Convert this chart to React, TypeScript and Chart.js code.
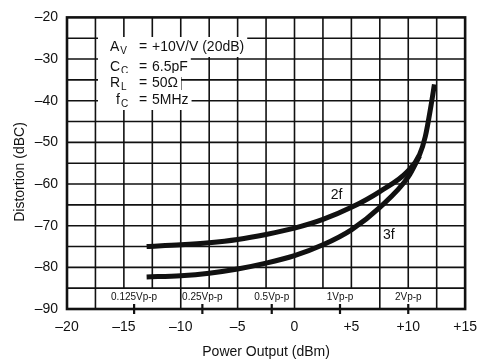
import React, { useEffect, useRef } from "react";
import { Chart, registerables } from "chart.js";

Chart.register(...registerables);

// ---- Data ----
const power2f = [-13, -10, -7.5, -5, -2.5, 0, 2.5, 5, 7.5, 10, 11, 11.5, 12, 12.3];
const dist2f = [-75, -74.6, -74.1, -73.3, -72.1, -70.6, -68.5, -65.6, -61.8, -56.8, -52.9, -48.6, -41.2, -36.1];
const power3f = [-13, -10, -7.5, -5, -2.5, 0, 2.5, 5, 7.5, 10, 11];
const dist3f = [-82.3, -82.0, -81.4, -80.4, -79.0, -77.2, -74.6, -71.0, -65.6, -58.3, -53.2];

const vppLabels = ["0.125Vp-p", "0.25Vp-p", "0.5Vp-p", "1Vp-p", "2Vp-p"];
const vppPower = [-14.1, -8.1, -2.0, 4.0, 10.0];
const rowSeparators = [-17.5, -10, -5, 0, 7.5, 12.5];

const xMin = -20, xMax = 15, xStep = 5, xGridStep = 2.5;
const yMin = -90, yMax = -20, yStep = 10, yGridStep = 5;

const curveLabels = [
  { text: "2f", x: 3.7, y: -62.7 },
  { text: "3f", x: 8.3, y: -72.3 },
];

const conditions = [
  { main: "A", sub: "V", value: "+10V/V (20dB)" },
  { main: "C", sub: "C", value: "6.5pF" },
  { main: "R", sub: "L", value: "50Ω" },
  { main: "f", sub: "C", value: "5MHz" },
];

const xTitle = "Power Output (dBm)";
const yTitle = "Distortion (dBC)";

const FONT = "'Liberation Sans', Arial, Helvetica, sans-serif";
const INK = "#111";

const fmtX = (v: number) => (v > 0 ? "+" + v : v < 0 ? "\u2013" + Math.abs(v) : "0");
const fmtY = (v: number) => (v < 0 ? "\u2013" + Math.abs(v) : String(v));

const decor = {
  id: "decor",
  beforeDatasetsDraw(chart: any) {
    const { ctx, chartArea: a } = chart;
    const xs = chart.scales.x;
    const ys = chart.scales.y;
    ctx.save();
    ctx.fillStyle = "#fff";
    ctx.fillRect(a.left, a.top, a.right - a.left, a.bottom - a.top);
    ctx.strokeStyle = INK;
    ctx.lineWidth = 1.6;
    // horizontal grid
    for (let v = yMin + yGridStep; v < yMax; v += yGridStep) {
      const y = ys.getPixelForValue(v);
      ctx.beginPath();
      ctx.moveTo(a.left, y);
      ctx.lineTo(a.right, y);
      ctx.stroke();
    }
    // vertical grid (stop at bottom row)
    const yRowTop = ys.getPixelForValue(yMin + yGridStep);
    for (let v = xMin + xGridStep; v < xMax; v += xGridStep) {
      const x = xs.getPixelForValue(v);
      ctx.beginPath();
      ctx.moveTo(x, a.top);
      ctx.lineTo(x, yRowTop);
      ctx.stroke();
    }
    // bottom row separators
    for (const v of rowSeparators) {
      const x = xs.getPixelForValue(v);
      ctx.beginPath();
      ctx.moveTo(x, yRowTop);
      ctx.lineTo(x, a.bottom);
      ctx.stroke();
    }
    // Vpp labels & ticks
    ctx.fillStyle = INK;
    ctx.font = `10px ${FONT}`;
    ctx.textAlign = "center";
    ctx.textBaseline = "middle";
    const rowMid = (yRowTop + a.bottom) / 2;
    vppLabels.forEach((t, i) => {
      const x = xs.getPixelForValue(vppPower[i]);
      ctx.fillText(t, x, rowMid - 1);
      ctx.lineWidth = 2.2;
      ctx.beginPath();
      ctx.moveTo(x, a.bottom - 5);
      ctx.lineTo(x, a.bottom + 5);
      ctx.stroke();
    });
    // conditions box
    const rowsY = [47, 67, 83, 100];
    const xMain = [110, 110, 110, 116];
    ctx.textAlign = "left";
    conditions.forEach((c, i) => {
      const y = rowsY[i];
      ctx.font = `14px ${FONT}`;
      const valW = ctx.measureText(c.value).width;
      const endX = 152 + valW + 3;
      ctx.fillStyle = "#fff";
      ctx.fillRect(98, y - 10, endX - 98, 20);
      ctx.fillStyle = INK;
      ctx.fillText(c.main, xMain[i], y);
      const mw = ctx.measureText(c.main).width;
      ctx.font = `10px ${FONT}`;
      ctx.fillText(c.sub, xMain[i] + mw + 1, y + 4);
      ctx.font = `14px ${FONT}`;
      ctx.fillText("=", 139, y);
      ctx.fillText(c.value, 152, y);
    });
    // border
    ctx.lineWidth = 2.6;
    ctx.strokeRect(a.left, a.top, a.right - a.left, a.bottom - a.top);
    ctx.restore();
  },
  afterDatasetsDraw(chart: any) {
    const { ctx, chartArea: a } = chart;
    const xs = chart.scales.x;
    const ys = chart.scales.y;
    ctx.save();
    ctx.fillStyle = INK;
    ctx.font = `14px ${FONT}`;
    ctx.textAlign = "center";
    ctx.textBaseline = "middle";
    for (const l of curveLabels) {
      ctx.fillText(l.text, xs.getPixelForValue(l.x), ys.getPixelForValue(l.y));
    }
    ctx.fillText(xTitle, (a.left + a.right) / 2, 352);
    ctx.translate(20, 172);
    ctx.rotate(-Math.PI / 2);
    ctx.fillText(yTitle, 0, 0);
    ctx.restore();
  },
};

export default function App() {
  const ref = useRef<HTMLCanvasElement | null>(null);
  useEffect(() => {
    if (!ref.current) return;
    const chart = new Chart(ref.current, {
      type: "line",
      data: {
        datasets: [
          {
            label: "2f",
            data: power2f.map((x, i) => ({ x, y: dist2f[i] })),
            borderColor: INK,
            borderWidth: 5,
            pointRadius: 0,
            cubicInterpolationMode: "monotone",
            borderCapStyle: "butt",
          },
          {
            label: "3f",
            data: power3f.map((x, i) => ({ x, y: dist3f[i] })),
            borderColor: INK,
            borderWidth: 5,
            pointRadius: 0,
            cubicInterpolationMode: "monotone",
            borderCapStyle: "butt",
          },
        ],
      },
      options: {
        animation: false,
        responsive: false,
        devicePixelRatio: 1,
        layout: { padding: { top: 9, right: 20, left: 0, bottom: 0 } },
        plugins: { legend: { display: false }, tooltip: { enabled: false } },
        scales: {
          x: {
            type: "linear",
            min: xMin,
            max: xMax,
            grid: { display: false, drawTicks: false, tickLength: 0 },
            border: { display: false },
            ticks: {
              stepSize: xStep,
              color: INK,
              font: { size: 14, family: FONT },
              padding: 10,
              maxRotation: 0,
              callback: (v: any) => fmtX(Number(v)),
            },
            afterFit: (s: any) => {
              s.height = 53;
            },
          },
          y: {
            type: "linear",
            min: yMin,
            max: yMax,
            grid: { display: false, drawTicks: false, tickLength: 0 },
            border: { display: false },
            ticks: {
              stepSize: yStep,
              color: INK,
              font: { size: 14, family: FONT },
              padding: 9,
              callback: (v: any) => fmtY(Number(v)),
            },
            afterFit: (s: any) => {
              s.width = 67;
            },
          },
        },
      },
      plugins: [decor],
    } as any);
    return () => chart.destroy();
  }, []);
  return (
    <div style={{ position: "absolute", left: 0, top: 0, width: 487, height: 362, background: "#fff" }}>
      <canvas ref={ref} width={487} height={362} />
    </div>
  );
}
